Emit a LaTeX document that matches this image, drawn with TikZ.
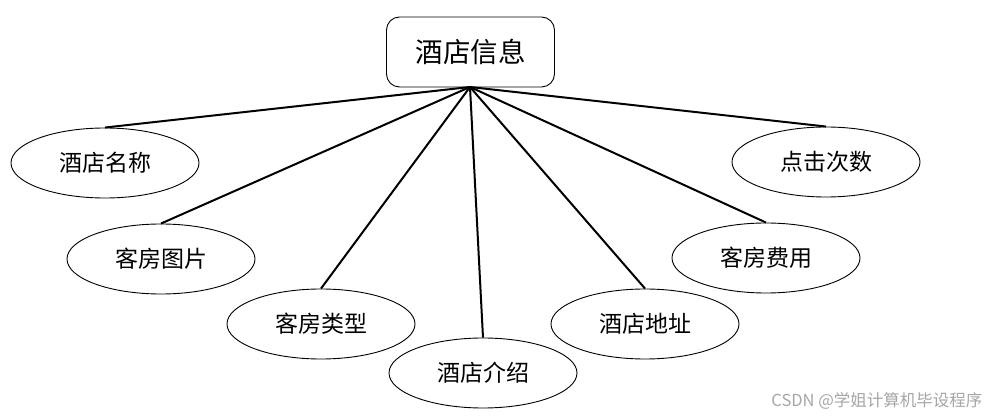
\documentclass[tikz,border=0pt]{standalone}
\usepackage{fontspec}
\newfontfamily\cjk{Noto Sans CJK SC}
\usetikzlibrary{shapes.geometric}
\begin{document}
\begin{tikzpicture}[x=1pt,y=-1pt,
  attr/.style={draw=black, line width=0.9pt, ellipse, minimum width=188pt, minimum height=70pt, inner sep=0pt, font=\cjk\fontsize{23}{26}\selectfont},
  entity/.style={draw=black, line width=0.9pt, rounded corners=13pt, minimum width=168pt, minimum height=70pt, inner sep=0pt, font=\cjk\fontsize{27.5}{30}\selectfont},
  link/.style={line width=2pt}]
\useasboundingbox (0,0) rectangle (994,419);
\node[entity] (top) at (470.5,52) {酒店信息};
\coordinate (hub) at (470,87);
\node[attr] (a1) at (105,163) {酒店名称};
\node[attr] (a2) at (161,259) {客房图片};
\node[attr] (a3) at (321,324) {客房类型};
\node[attr] (a4) at (483,373) {酒店介绍};
\node[attr] (a5) at (645,324) {酒店地址};
\node[attr] (a6) at (766,258) {客房费用};
\node[attr] (a7) at (826,162) {点击次数};
\foreach \n in {a1,a2,a3,a4,a5,a6,a7} \draw[link] (hub) -- (\n.north);
\node[anchor=east, text=black!35, font=\cjk\fontsize{16.5}{18}\selectfont] (wm) at (986,401) {CSDN @学姐计算机毕设程序};
\end{tikzpicture}
\end{document}
